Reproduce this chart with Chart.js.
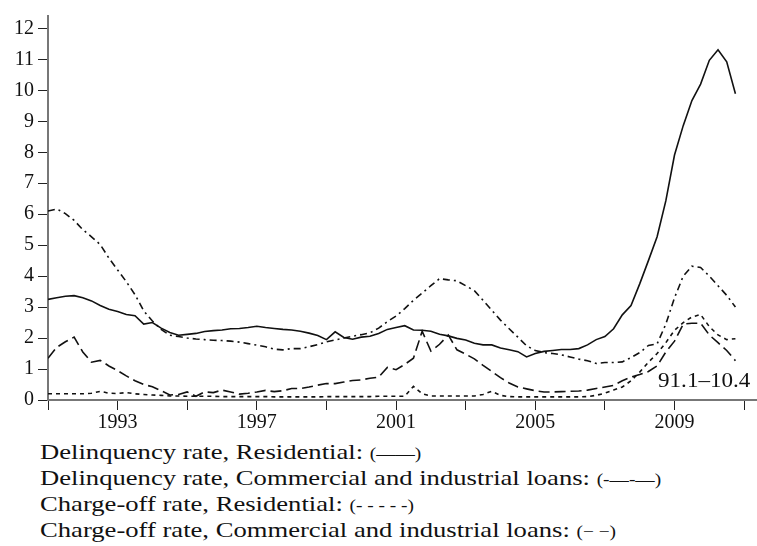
<!DOCTYPE html>
<html>
<head>
<meta charset="utf-8">
<script src="https://cdn.jsdelivr.net/npm/chart.js@4.4.1/dist/chart.umd.min.js"></script>
<style>
  html,body{margin:0;padding:0;background:#fff;}
  #wrap{position:relative;width:757px;height:546px;overflow:hidden;}
  #box{position:absolute;left:0;top:0;width:757px;height:430px;}
  #span{position:absolute;left:658px;top:370px;font:21px "Liberation Serif",serif;line-height:20px;color:#111;
    transform:scaleX(1.1);transform-origin:left center;}
  #legend{position:absolute;left:40px;top:440px;font:22px "Liberation Serif",serif;line-height:24px;color:#111;white-space:nowrap;
    transform:scaleX(1.21);transform-origin:left top;}
  #legend .sym{font-size:16px;}
</style>
</head>
<body>
<div id="wrap">
  <div id="box"><canvas id="chart"></canvas></div>
  <div id="span">91.1–10.4</div>
  <div id="legend">
    <div>Delinquency rate, Residential: <span class="sym">(——)</span></div>
    <div>Delinquency rate, Commercial and industrial loans: <span class="sym">(-—-—)</span></div>
    <div>Charge-off rate, Residential: <span class="sym">(- - - - -)</span></div>
    <div>Charge-off rate, Commercial and industrial loans: <span class="sym">(− −)</span></div>
  </div>
</div>
<script>
// quarterly, 1991Q1 .. 2010Q4
const startYear = 1991;
const yearTicks = [1991,1993,1995,1997,1999,2001,2003,2005,2007,2009,2011];
const yearLabels = [1993,1997,2001,2005,2009];
const valueTicks = [0,1,2,3,4,5,6,7,8,9,10,11,12];

const resDelinq = [
  3.25,3.30,3.35,3.37,3.30,3.20,3.05,2.93,2.86,2.76,2.72,2.45,2.50,2.32,2.18,2.09,
  2.12,2.15,2.21,2.24,2.26,2.30,2.31,2.34,2.38,2.34,2.31,2.28,2.26,2.22,2.16,2.08,
  1.95,2.20,2.02,1.96,2.03,2.06,2.15,2.28,2.34,2.40,2.26,2.25,2.22,2.12,2.07,1.99,
  1.94,1.83,1.78,1.78,1.68,1.62,1.56,1.39,1.50,1.57,1.60,1.63,1.63,1.66,1.78,1.95,
  2.05,2.30,2.75,3.05,3.75,4.50,5.27,6.43,7.91,8.86,9.67,10.20,10.97,11.31,10.92,9.89
];
const ciDelinq = [
  6.10,6.17,6.02,5.80,5.50,5.27,5.02,4.58,4.20,3.82,3.40,2.88,2.55,2.28,2.09,2.05,
  2.00,1.97,1.95,1.93,1.92,1.90,1.87,1.82,1.77,1.72,1.64,1.62,1.66,1.66,1.72,1.79,
  1.88,1.94,2.00,2.06,2.11,2.17,2.32,2.53,2.71,2.95,3.22,3.45,3.69,3.92,3.88,3.85,
  3.69,3.53,3.22,2.90,2.58,2.30,2.03,1.75,1.60,1.53,1.50,1.46,1.39,1.32,1.27,1.18,
  1.21,1.21,1.23,1.37,1.53,1.76,1.81,2.45,3.30,4.00,4.32,4.28,4.00,3.69,3.38,3.00
];
const resChargeoff = [
  0.20,0.20,0.20,0.20,0.20,0.22,0.28,0.22,0.21,0.24,0.20,0.18,0.16,0.15,0.13,0.13,
  0.12,0.12,0.12,0.12,0.11,0.11,0.11,0.11,0.11,0.11,0.10,0.10,0.10,0.10,0.10,0.10,
  0.11,0.11,0.11,0.11,0.11,0.11,0.12,0.12,0.12,0.12,0.44,0.20,0.13,0.13,0.13,0.13,
  0.13,0.13,0.18,0.28,0.15,0.11,0.10,0.10,0.10,0.10,0.10,0.10,0.10,0.10,0.11,0.15,
  0.22,0.32,0.42,0.62,0.90,1.22,1.50,1.85,2.25,2.50,2.68,2.76,2.37,2.10,1.95,1.98
];
const ciChargeoff = [
  1.35,1.70,1.88,2.03,1.55,1.22,1.28,1.10,0.95,0.78,0.62,0.50,0.43,0.30,0.16,0.18,
  0.26,0.12,0.26,0.24,0.32,0.26,0.19,0.22,0.26,0.31,0.27,0.30,0.37,0.37,0.42,0.48,
  0.53,0.53,0.58,0.63,0.65,0.70,0.74,1.05,0.98,1.15,1.35,2.22,1.58,1.80,2.10,1.62,
  1.48,1.33,1.12,0.92,0.72,0.55,0.42,0.36,0.30,0.26,0.26,0.27,0.28,0.29,0.32,0.37,
  0.42,0.47,0.62,0.74,0.82,0.92,1.10,1.55,1.90,2.45,2.48,2.48,2.10,1.85,1.60,1.27
];

const toXY = arr => arr.map((v,i)=>({x:startYear+i/4, y:v}));
const mkLine = (arr,dash)=>({data:toXY(arr), borderColor:'#111', borderWidth:1.6, borderDash:dash,
  pointRadius:0, tension:0, fill:false});

const font = {family:'"Liberation Serif", serif', size:20};

new Chart(document.getElementById('chart'),{
  type:'line',
  data:{datasets:[
    mkLine(resDelinq,[]),
    mkLine(ciDelinq,[7,4,2,4]),
    mkLine(resChargeoff,[4,4]),
    mkLine(ciChargeoff,[11,5]),
  ]},
  options:{
    responsive:true, maintainAspectRatio:false, animation:false,
    layout:{padding:{top:8,right:0,left:0,bottom:0}},
    plugins:{legend:{display:false}, tooltip:{enabled:false}},
    scales:{
      x:{type:'linear', min:1991, max:2011.37,
        afterBuildTicks:s=>{ s.ticks = yearTicks.map(v=>({value:v})); },
        afterFit:s=>{ s.height = 30; },
        ticks:{autoSkip:false, maxRotation:0, padding:1, color:'#111', font,
          callback:v=>yearLabels.includes(v)?String(v):''},
        grid:{drawOnChartArea:false, drawTicks:true, tickLength:10, color:'#222', lineWidth:1},
        border:{display:true, color:'#777', width:2}
      },
      y:{min:0, max:12.4,
        afterBuildTicks:s=>{ s.ticks = valueTicks.map(v=>({value:v})); },
        afterFit:s=>{ s.width = 48; },
        ticks:{autoSkip:false, padding:4, color:'#111', font},
        grid:{drawOnChartArea:false, drawTicks:true, tickLength:10, color:'#222', lineWidth:1},
        border:{display:true, color:'#777', width:2}
      }
    }
  }
});
</script>
</body>
</html>
